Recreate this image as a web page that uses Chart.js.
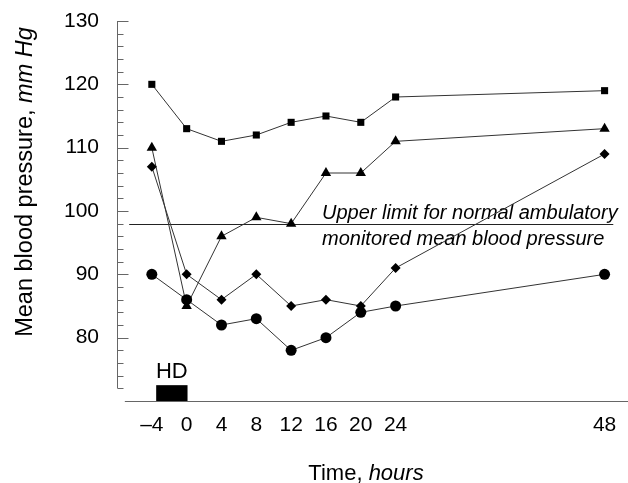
<!DOCTYPE html>
<html>
<head>
<meta charset="utf-8">
<script src="https://cdn.jsdelivr.net/npm/chart.js@4.4.1/dist/chart.umd.min.js"></script>
<style>
  body { margin: 0; background: #fff; }
  #wrap { width: 628px; height: 483px; }
</style>
</head>
<body>
<div id="wrap"><canvas id="bpChart"></canvas></div>
<script>
// values
const hours = [-4, 0, 4, 8, 12, 16, 20, 24, 48];
const squares = [120, 113, 111, 112, 114, 115, 114, 118, 119];
const triangles = [110, 85, 96, 99, 98, 106, 106, 111, 113];
const diamonds = [107, 90, 86, 90, 85, 86, 85, 91, 109];
const circles = [90, 86, 82, 83, 78, 80, 84, 85, 90];
const xTickValues = [-4, 0, 4, 8, 12, 16, 20, 24, 48];
const upperLimit = 98;
const hdPeriod = [-3.5, 0.1];
const noteLines = ['Upper limit for normal ambulatory', 'monitored mean blood pressure'];

const FONT = '"Liberation Sans", Arial, Helvetica, sans-serif';

function pts(vals) {
  return hours.map(function (h, i) { return { x: h, y: vals[i] } });
}

function series(vals, style, radius) {
  return {
    data: pts(vals),
    borderColor: '#333',
    borderWidth: 1,
    pointStyle: style,
    pointRadius: radius,
    pointHoverRadius: radius,
    pointBackgroundColor: '#000',
    pointBorderColor: '#000',
    pointBorderWidth: 0,
    lineTension: 0
  };
}

// axes, reference line, HD bar and texts
const decor = {
  id: 'decor',
  beforeDatasetsDraw: function (chart) {
    var ctx = chart.ctx, xs = chart.scales.x, ys = chart.scales.y;
    var area = chart.chartArea;
    ctx.save();
    ctx.strokeStyle = '#666';
    ctx.lineWidth = 1;
    // y axis with inside ticks
    var ax = Math.round(area.left) + 0.5;
    ctx.beginPath();
    ctx.moveTo(ax, ys.getPixelForValue(72));
    ctx.lineTo(ax, ys.getPixelForValue(130));
    for (var v = 72; v <= 130; v += 2) {
      var py = Math.round(ys.getPixelForValue(v)) + 0.5;
      ctx.moveTo(ax, py);
      ctx.lineTo(ax + (v % 10 === 0 ? 11 : 6), py);
    }
    ctx.stroke();
    // x axis
    var by = Math.round(area.bottom) + 0.5;
    ctx.beginPath();
    ctx.moveTo(xs.getPixelForValue(-7.1), by);
    ctx.lineTo(chart.width, by);
    ctx.stroke();
    // upper limit line
    ctx.strokeStyle = '#222';
    var ry = Math.round(ys.getPixelForValue(upperLimit)) + 0.5;
    ctx.beginPath();
    ctx.moveTo(xs.getPixelForValue(-6.6), ry);
    ctx.lineTo(xs.getPixelForValue(49), ry);
    ctx.stroke();
    // HD bar
    ctx.fillStyle = '#000';
    var x0 = xs.getPixelForValue(hdPeriod[0]), x1 = xs.getPixelForValue(hdPeriod[1]);
    var top = ys.getPixelForValue(72.5);
    ctx.fillRect(x0, top, x1 - x0, area.bottom - top);
    ctx.font = '22px ' + FONT;
    ctx.textAlign = 'center';
    ctx.textBaseline = 'alphabetic';
    ctx.fillText('HD', (x0 + x1) / 2, top - 7);
    // note text
    ctx.font = 'italic 20px ' + FONT;
    ctx.textAlign = 'left';
    ctx.fillText(noteLines[0], 322, ry - 6);
    ctx.fillText(noteLines[1], 322, ry + 20);
    ctx.restore();
  },
  afterDraw: function (chart) {
    var ctx = chart.ctx;
    ctx.save();
    ctx.fillStyle = '#000';
    ctx.textBaseline = 'alphabetic';
    ctx.textAlign = 'left';
    // x title
    var a = 'Time, ', b = 'hours';
    ctx.font = '22px ' + FONT;
    var wa = ctx.measureText(a).width;
    ctx.font = 'italic 22px ' + FONT;
    var wb = ctx.measureText(b).width;
    var sx = 366 - (wa + wb) / 2;
    ctx.font = '22px ' + FONT;
    ctx.fillText(a, sx, 480);
    ctx.font = 'italic 22px ' + FONT;
    ctx.fillText(b, sx + wa, 480);
    // y title
    var c = 'Mean blood pressure, ', d = 'mm Hg';
    ctx.font = '23.5px ' + FONT;
    var wc = ctx.measureText(c).width;
    ctx.font = 'italic 23.5px ' + FONT;
    var wd = ctx.measureText(d).width;
    ctx.translate(32, 182);
    ctx.rotate(-Math.PI / 2);
    var sy = -(wc + wd) / 2;
    ctx.font = '23.5px ' + FONT;
    ctx.fillText(c, sy, 0);
    ctx.font = 'italic 23.5px ' + FONT;
    ctx.fillText(d, sy + wc, 0);
    ctx.restore();
  }
};

var ctx = document.getElementById('bpChart');
var bpChart = new Chart(ctx, {
  type: 'line',
  data: {
    datasets: [
      series(circles, 'circle', 5.5),
      series(diamonds, 'rectRot', 5),
      series(triangles, 'triangle', 6),
      series(squares, 'rect', 5)
    ]
  },
  options: {
    responsive: true,
    maintainAspectRatio: false,
    animation: false,
    layout: { padding: { top: 21, right: 0, bottom: 0, left: 0 } },
    plugins: {
      legend: { display: false },
      tooltip: { enabled: false }
    },
    scales: {
      x: {
        type: 'linear',
        min: -8,
        max: 50,
        grid: { display: false, drawTicks: false },
        border: { display: false },
        afterBuildTicks: function (scale) {
          scale.ticks = xTickValues.map(function (v) { return { value: v } });
        },
        afterFit: function (scale) {
          scale.height = 82;
          scale.paddingLeft = 0; scale.paddingRight = 0;
        },
        ticks: {
          color: '#000',
          padding: 12,
          maxRotation: 0,
          autoSkip: false,
          font: { family: FONT, size: 21 },
          callback: function (v) { return v < 0 ? '\u2013' + Math.abs(v) : '' + v }
        }
      },
      y: {
        min: 70,
        max: 130,
        grid: { display: false, drawTicks: false },
        border: { display: false },
        afterFit: function (scale) {
          scale.width = 117;
          scale.paddingTop = 0; scale.paddingBottom = 0;
        },
        ticks: {
          stepSize: 10,
          color: '#000',
          padding: 18,
          font: { family: FONT, size: 21 },
          callback: function (v) { return v === 70 ? '' : v }
        }
      }
    }
  },
  plugins: [decor]
});
</script>
</body>
</html>
